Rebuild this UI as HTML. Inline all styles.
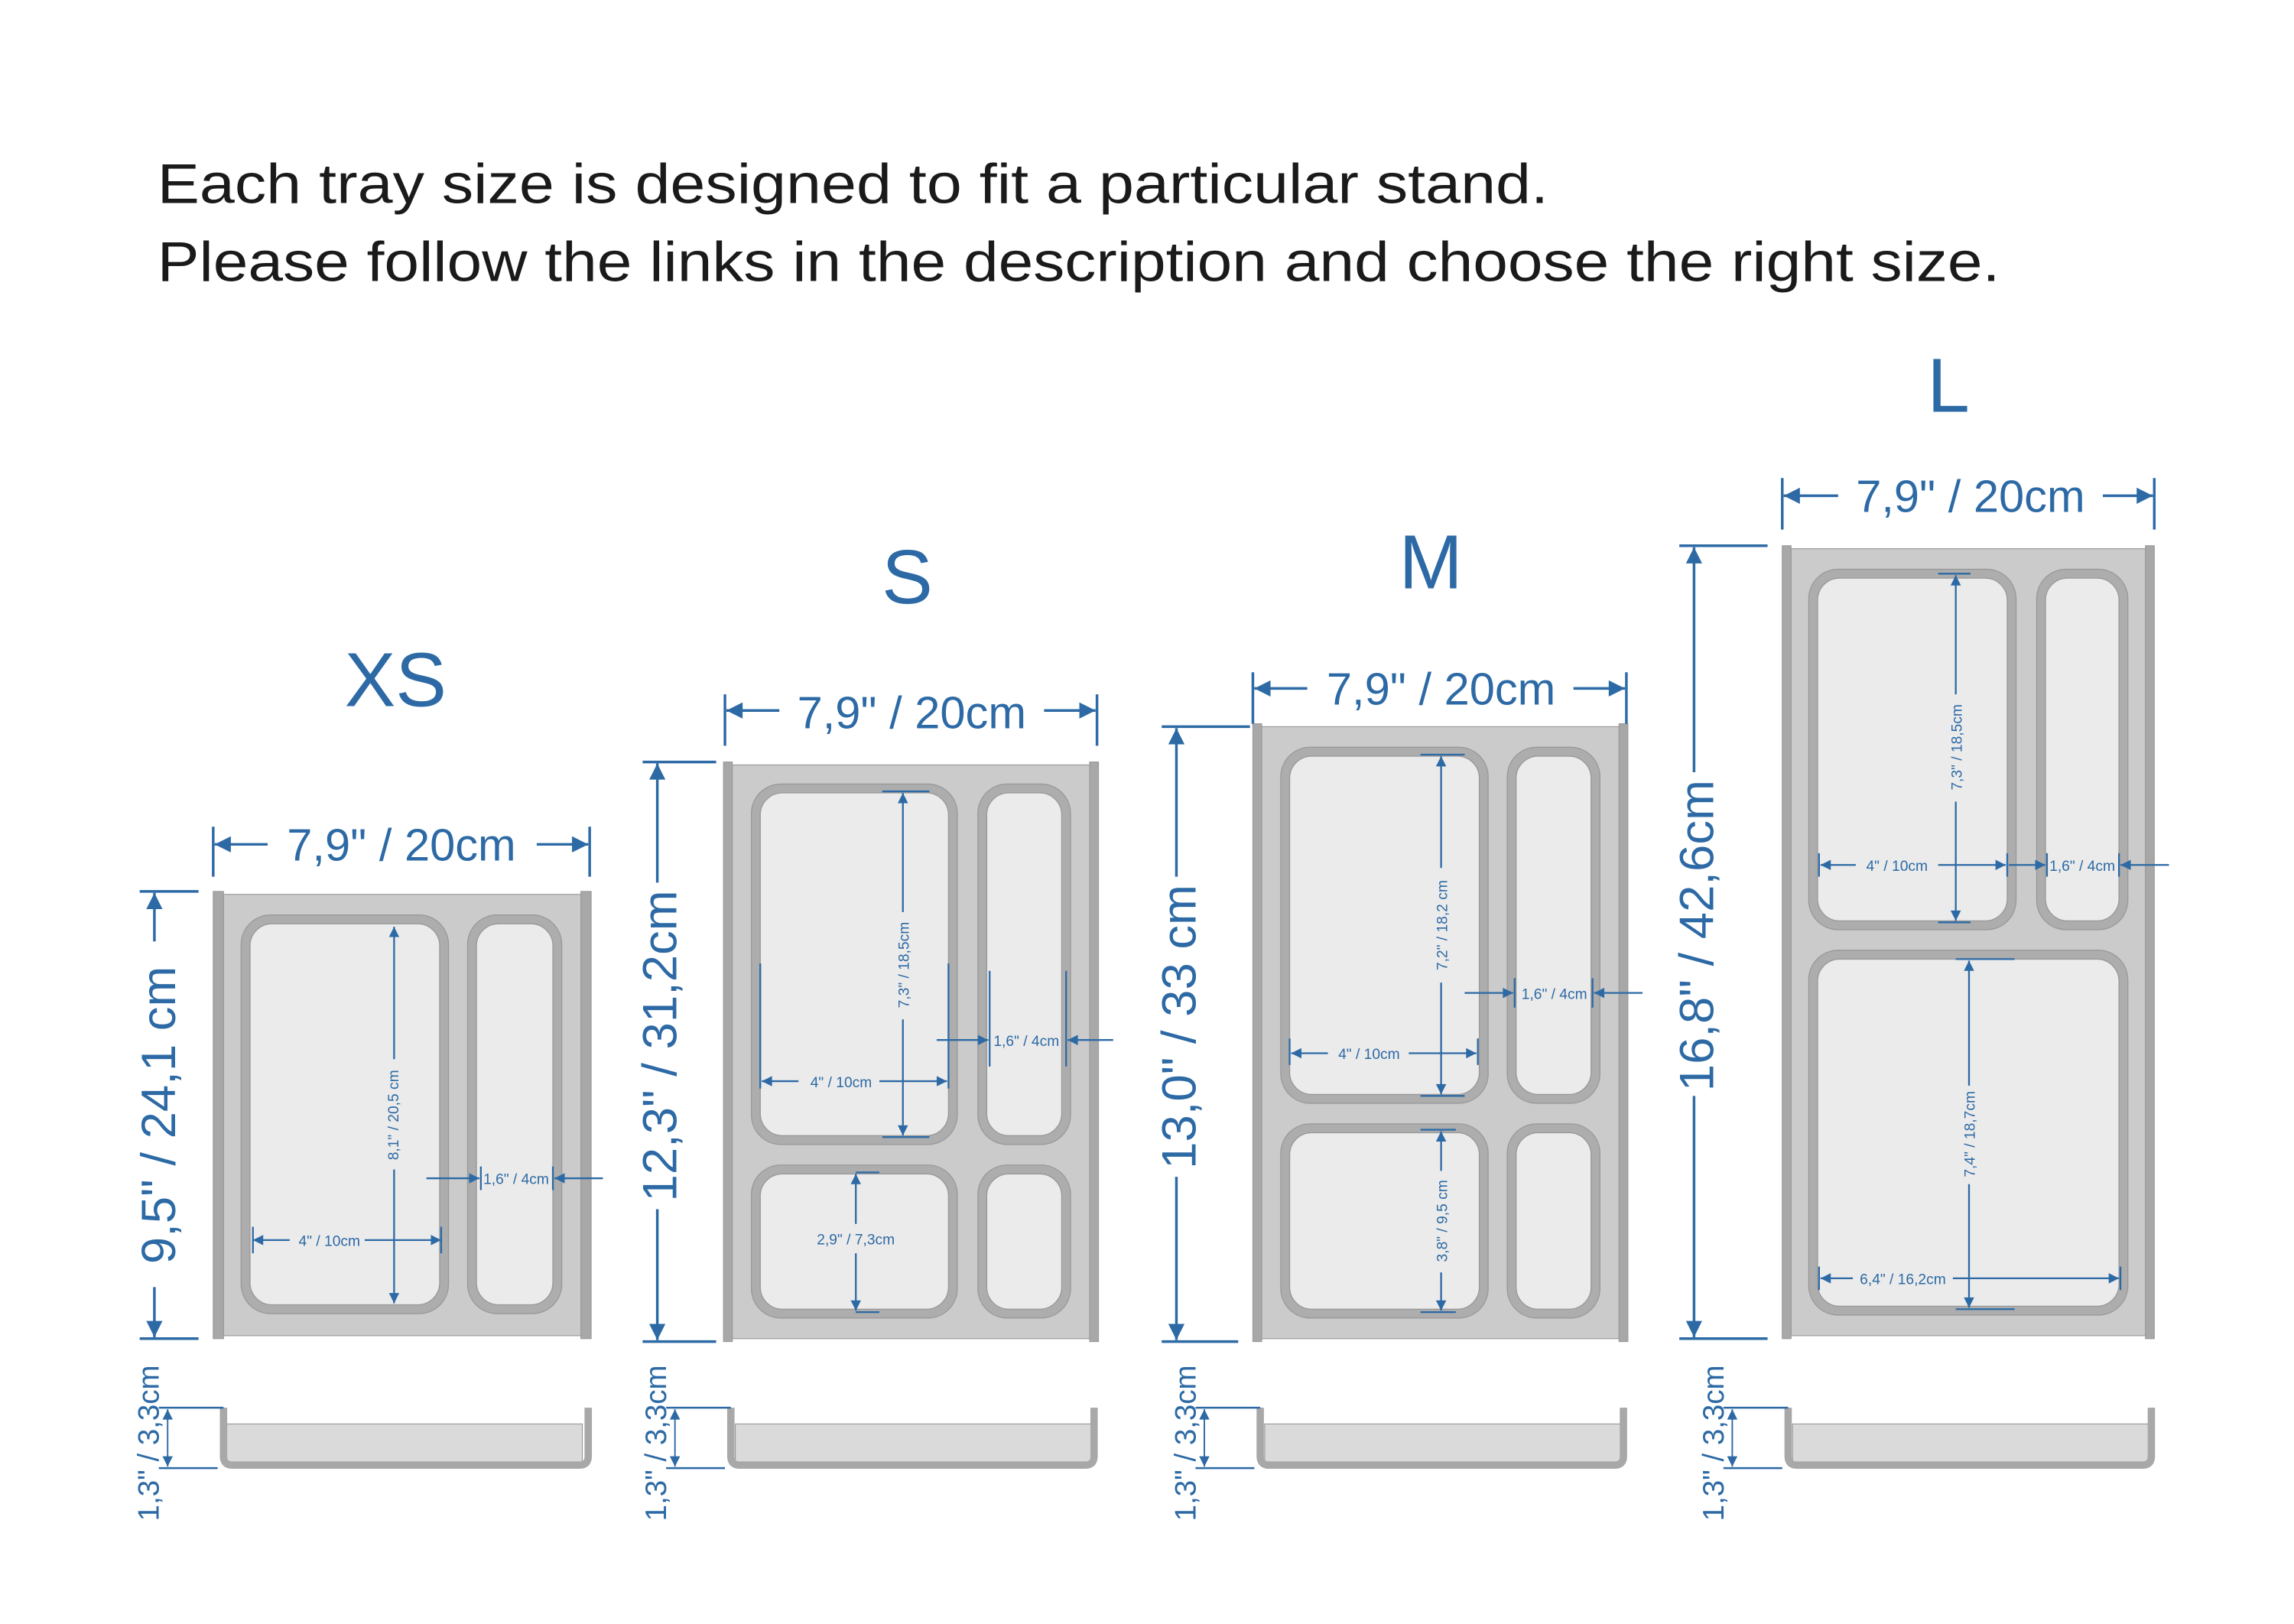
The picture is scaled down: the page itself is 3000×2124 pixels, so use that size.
<!DOCTYPE html>
<html><head><meta charset="utf-8"><style>
html,body{margin:0;padding:0;background:#fff;}
svg{display:block;}
</style></head><body>
<svg width="3000" height="2124" viewBox="0 0 1560 1104" preserveAspectRatio="none" xmlns="http://www.w3.org/2000/svg" font-family="Liberation Sans, Arial, sans-serif">
<defs>
<marker id="a" viewBox="0 0 10 10" refX="10" refY="5" markerUnits="userSpaceOnUse" markerWidth="20" markerHeight="11" orient="auto"><path d="M0,0L10,5L0,10z" fill="#2d6aa5"/></marker>
<marker id="s" viewBox="0 0 10 10" refX="10" refY="5" markerUnits="userSpaceOnUse" markerWidth="13" markerHeight="7" orient="auto-start-reverse"><path d="M0,0L10,5L0,10z" fill="#2d6aa5"/></marker>
</defs>
<rect width="1560" height="1104" fill="#fff"/>
<text x="107" y="138" font-size="38" fill="#1a1a1a" textLength="946" lengthAdjust="spacingAndGlyphs">Each tray size is designed to fit a particular stand.</text>
<text x="107" y="191" font-size="38" fill="#1a1a1a" textLength="1253" lengthAdjust="spacingAndGlyphs">Please follow the links in the description and choose the right size.</text>

<g fill="#2d6aa5" font-size="52" text-anchor="middle">
<text x="269" y="480">XS</text><text x="617" y="410">S</text><text x="973" y="400">M</text><text x="1325" y="280">L</text>
</g>

<!-- trays -->
<g stroke="#9a9a9a" stroke-width="0.6">
<rect x="152" y="608" width="243" height="300" fill="#cbcbcb"/>
<rect x="145" y="606" width="7" height="304" fill="#a8a8a8"/><rect x="395" y="606" width="7" height="304" fill="#a8a8a8"/>
<rect x="498" y="520" width="243" height="390" fill="#cbcbcb"/>
<rect x="492" y="518" width="6" height="394" fill="#a8a8a8"/><rect x="741" y="518" width="6" height="394" fill="#a8a8a8"/>
<rect x="858" y="494" width="243" height="416" fill="#cbcbcb"/>
<rect x="852" y="492" width="6" height="420" fill="#a8a8a8"/><rect x="1101" y="492" width="6" height="420" fill="#a8a8a8"/>
<rect x="1218" y="373" width="241" height="535" fill="#cbcbcb"/>
<rect x="1212" y="371" width="6" height="539" fill="#a8a8a8"/><rect x="1459" y="371" width="6" height="539" fill="#a8a8a8"/>
</g>
<!-- compartments -->
<g stroke="#999" stroke-width="0.7">
<rect x="164" y="622" width="141" height="271" rx="20" fill="#adadad"/><rect x="170" y="628" width="129" height="259" rx="15" fill="#ebebeb"/>
<rect x="318" y="622" width="64" height="271" rx="20" fill="#adadad"/><rect x="324" y="628" width="52" height="259" rx="15" fill="#ebebeb"/>

<rect x="511" y="533" width="140" height="245" rx="20" fill="#adadad"/><rect x="517" y="539" width="128" height="233" rx="15" fill="#ebebeb"/>
<rect x="665" y="533" width="63" height="245" rx="20" fill="#adadad"/><rect x="671" y="539" width="51" height="233" rx="15" fill="#ebebeb"/>
<rect x="511" y="792" width="140" height="104" rx="20" fill="#adadad"/><rect x="517" y="798" width="128" height="92" rx="15" fill="#ebebeb"/>
<rect x="665" y="792" width="63" height="104" rx="20" fill="#adadad"/><rect x="671" y="798" width="51" height="92" rx="15" fill="#ebebeb"/>

<rect x="871" y="508" width="141" height="242" rx="20" fill="#adadad"/><rect x="877" y="514" width="129" height="230" rx="15" fill="#ebebeb"/>
<rect x="1025" y="508" width="63" height="242" rx="20" fill="#adadad"/><rect x="1031" y="514" width="51" height="230" rx="15" fill="#ebebeb"/>
<rect x="871" y="764" width="141" height="132" rx="20" fill="#adadad"/><rect x="877" y="770" width="129" height="120" rx="15" fill="#ebebeb"/>
<rect x="1025" y="764" width="63" height="132" rx="20" fill="#adadad"/><rect x="1031" y="770" width="51" height="120" rx="15" fill="#ebebeb"/>

<rect x="1230" y="387" width="141" height="245" rx="20" fill="#adadad"/><rect x="1236" y="393" width="129" height="233" rx="15" fill="#ebebeb"/>
<rect x="1385" y="387" width="62" height="245" rx="20" fill="#adadad"/><rect x="1391" y="393" width="50" height="233" rx="15" fill="#ebebeb"/>
<rect x="1230" y="646" width="217" height="248" rx="20" fill="#adadad"/><rect x="1236" y="652" width="205" height="236" rx="15" fill="#ebebeb"/>
</g>

<!-- side profiles -->
<g>
<rect x="154" y="968" width="242" height="26" fill="#dadada" stroke="#999" stroke-width="0.6"/>
<path d="M152,957V990Q152,996 158,996H394Q400,996 400,990V957" fill="none" stroke="#a8a8a8" stroke-width="5"/>
<rect x="500" y="968" width="242" height="26" fill="#dadada" stroke="#999" stroke-width="0.6"/>
<path d="M497,957V990Q497,996 503,996H738Q744,996 744,990V957" fill="none" stroke="#a8a8a8" stroke-width="5"/>
<rect x="860" y="968" width="242" height="26" fill="#dadada" stroke="#999" stroke-width="0.6"/>
<path d="M857,957V990Q857,996 863,996H1098Q1104,996 1104,990V957" fill="none" stroke="#a8a8a8" stroke-width="5"/>
<rect x="1219" y="968" width="242" height="26" fill="#dadada" stroke="#999" stroke-width="0.6"/>
<path d="M1216,957V990Q1216,996 1222,996H1457Q1463,996 1463,990V957" fill="none" stroke="#a8a8a8" stroke-width="5"/>
</g>

<!-- big dims -->
<g stroke="#2d6aa5" stroke-width="1.8" fill="none">
<path d="M145,562V596M401,562V596"/>
<line x1="182" y1="574" x2="146" y2="574" marker-end="url(#a)"/><line x1="365" y1="574" x2="400" y2="574" marker-end="url(#a)"/>
<path d="M95,606H135M95,910H135"/>
<line x1="105" y1="640" x2="105" y2="607" marker-end="url(#a)"/><line x1="105" y1="875" x2="105" y2="909" marker-end="url(#a)"/>
<path d="M493,472V507M746,472V507"/>
<line x1="530" y1="483" x2="494" y2="483" marker-end="url(#a)"/><line x1="710" y1="483" x2="745" y2="483" marker-end="url(#a)"/>
<path d="M437,518H487M437,912H487"/>
<line x1="447" y1="600" x2="447" y2="519" marker-end="url(#a)"/><line x1="447" y1="822" x2="447" y2="911" marker-end="url(#a)"/>
<path d="M852,457V492M1106,457V492"/>
<line x1="889" y1="468" x2="853" y2="468" marker-end="url(#a)"/><line x1="1070" y1="468" x2="1105" y2="468" marker-end="url(#a)"/>
<path d="M790,494H850M790,912H842"/>
<line x1="800" y1="596" x2="800" y2="495" marker-end="url(#a)"/><line x1="800" y1="800" x2="800" y2="911" marker-end="url(#a)"/>
<path d="M1212,325V360M1465,325V360"/>
<line x1="1250" y1="337" x2="1213" y2="337" marker-end="url(#a)"/><line x1="1430" y1="337" x2="1464" y2="337" marker-end="url(#a)"/>
<path d="M1142,371H1202M1142,910H1202"/>
<line x1="1152" y1="525" x2="1152" y2="372" marker-end="url(#a)"/><line x1="1152" y1="745" x2="1152" y2="909" marker-end="url(#a)"/>
</g>
<g fill="#2d6aa5" font-size="31" text-anchor="middle">
<text x="273" y="585">7,9" / 20cm</text>
<text x="620" y="495">7,9" / 20cm</text>
<text x="980" y="479">7,9" / 20cm</text>
<text x="1340" y="348">7,9" / 20cm</text>
<text transform="translate(119,758) rotate(-90)" font-size="33">9,5"  /  24,1 cm</text>
<text transform="translate(460,711) rotate(-90)" font-size="33">12,3" / 31,2cm</text>
<text transform="translate(813,698) rotate(-90)" font-size="33">13,0" / 33 cm</text>
<text transform="translate(1165,636) rotate(-90)" font-size="33">16,8" / 42,6cm</text>
</g>

<!-- height dims -->
<g stroke="#2d6aa5" stroke-width="1.3" fill="none">
<path d="M108,957H152M108,998H148M453,957H497M453,998H493M813,957H857M813,998H853M1172,957H1216M1172,998H1212"/>
<line x1="114" y1="968" x2="114" y2="958" marker-end="url(#s)" stroke-width="1"/><line x1="114" y1="988" x2="114" y2="997" marker-end="url(#s)" stroke-width="1"/>
<line x1="459" y1="968" x2="459" y2="958" marker-end="url(#s)" stroke-width="1"/><line x1="459" y1="988" x2="459" y2="997" marker-end="url(#s)" stroke-width="1"/>
<line x1="819" y1="968" x2="819" y2="958" marker-end="url(#s)" stroke-width="1"/><line x1="819" y1="988" x2="819" y2="997" marker-end="url(#s)" stroke-width="1"/>
<line x1="1178" y1="968" x2="1178" y2="958" marker-end="url(#s)" stroke-width="1"/><line x1="1178" y1="988" x2="1178" y2="997" marker-end="url(#s)" stroke-width="1"/>
<path d="M114,968V988M459,968V988M819,968V988M1178,968V988" stroke-width="1"/>
</g>
<g fill="#2d6aa5" font-size="20" text-anchor="middle">
<text transform="translate(108,981) rotate(-90)">1,3" / 3,3cm</text>
<text transform="translate(453,981) rotate(-90)">1,3" / 3,3cm</text>
<text transform="translate(813,981) rotate(-90)">1,3" / 3,3cm</text>
<text transform="translate(1172,981) rotate(-90)">1,3" / 3,3cm</text>
</g>

<!-- inner dims -->
<g stroke="#2d6aa5" stroke-width="1.2" fill="none">
<line x1="268" y1="720" x2="268" y2="630" marker-end="url(#s)"/><line x1="268" y1="795" x2="268" y2="886" marker-end="url(#s)"/>
<line x1="197" y1="843" x2="172" y2="843" marker-end="url(#s)"/><line x1="248" y1="843" x2="300" y2="843" marker-end="url(#s)"/>
<path d="M172,834V852M300,834V852M327,793V809M376,793V809"/>
<line x1="290" y1="801" x2="326" y2="801" marker-end="url(#s)"/><line x1="410" y1="801" x2="377" y2="801" marker-end="url(#s)"/>
<path d="M600,538H632M600,773H632M517,655V740M645,655V740M673,660V725M725,660V725M582,797H598M582,892H598"/>
<line x1="614" y1="620" x2="614" y2="539" marker-end="url(#s)"/><line x1="614" y1="693" x2="614" y2="772" marker-end="url(#s)"/>
<line x1="543" y1="735" x2="518" y2="735" marker-end="url(#s)"/><line x1="598" y1="735" x2="644" y2="735" marker-end="url(#s)"/>
<line x1="637" y1="707" x2="672" y2="707" marker-end="url(#s)"/><line x1="757" y1="707" x2="726" y2="707" marker-end="url(#s)"/>
<line x1="582" y1="832" x2="582" y2="798" marker-end="url(#s)"/><line x1="582" y1="852" x2="582" y2="891" marker-end="url(#s)"/>
<path d="M966,513H996M966,745H996M877,706V724M1005,706V724M1030,665V685M1083,665V685M966,768H990M966,892H990"/>
<line x1="980" y1="590" x2="980" y2="514" marker-end="url(#s)"/><line x1="980" y1="668" x2="980" y2="744" marker-end="url(#s)"/>
<line x1="903" y1="716" x2="878" y2="716" marker-end="url(#s)"/><line x1="958" y1="716" x2="1004" y2="716" marker-end="url(#s)"/>
<line x1="996" y1="675" x2="1029" y2="675" marker-end="url(#s)"/><line x1="1117" y1="675" x2="1084" y2="675" marker-end="url(#s)"/>
<line x1="980" y1="796" x2="980" y2="769" marker-end="url(#s)"/><line x1="980" y1="865" x2="980" y2="891" marker-end="url(#s)"/>
<path d="M1318,390H1340M1318,627H1340M1237,580V596M1365,580V596M1392,580V596M1441,580V596M1330,652H1370M1330,890H1370M1237,861V877M1442,861V877"/>
<line x1="1330" y1="472" x2="1330" y2="391" marker-end="url(#s)"/><line x1="1330" y1="545" x2="1330" y2="626" marker-end="url(#s)"/>
<line x1="1262" y1="588" x2="1238" y2="588" marker-end="url(#s)"/><line x1="1318" y1="588" x2="1364" y2="588" marker-end="url(#s)"/>
<line x1="1366" y1="588" x2="1391" y2="588" marker-end="url(#s)"/><line x1="1475" y1="588" x2="1442" y2="588" marker-end="url(#s)"/>
<line x1="1339" y1="738" x2="1339" y2="653" marker-end="url(#s)"/><line x1="1339" y1="805" x2="1339" y2="889" marker-end="url(#s)"/>
<line x1="1260" y1="869" x2="1238" y2="869" marker-end="url(#s)"/><line x1="1328" y1="869" x2="1441" y2="869" marker-end="url(#s)"/>
</g>
<g fill="#2d6aa5" font-size="10" text-anchor="middle">
<text transform="translate(271,758) rotate(-90)">8,1" / 20,5 cm</text>
<text x="224" y="847">4" / 10cm</text>
<text x="351" y="805">1,6" / 4cm</text>
<text transform="translate(618,656) rotate(-90)">7,3" / 18,5cm</text>
<text x="572" y="739">4" / 10cm</text>
<text x="698" y="711">1,6" / 4cm</text>
<text x="582" y="846">2,9" / 7,3cm</text>
<text transform="translate(984,629) rotate(-90)">7,2" / 18,2 cm</text>
<text x="931" y="720">4" / 10cm</text>
<text x="1057" y="679">1,6" / 4cm</text>
<text transform="translate(984,830) rotate(-90)">3,8" / 9,5 cm</text>
<text transform="translate(1334,508) rotate(-90)">7,3" / 18,5cm</text>
<text x="1290" y="592">4" / 10cm</text>
<text x="1416" y="592">1,6" / 4cm</text>
<text transform="translate(1343,771) rotate(-90)">7,4" / 18,7cm</text>
<text x="1294" y="873">6,4" / 16,2cm</text>
</g>
</svg>
</body></html>
